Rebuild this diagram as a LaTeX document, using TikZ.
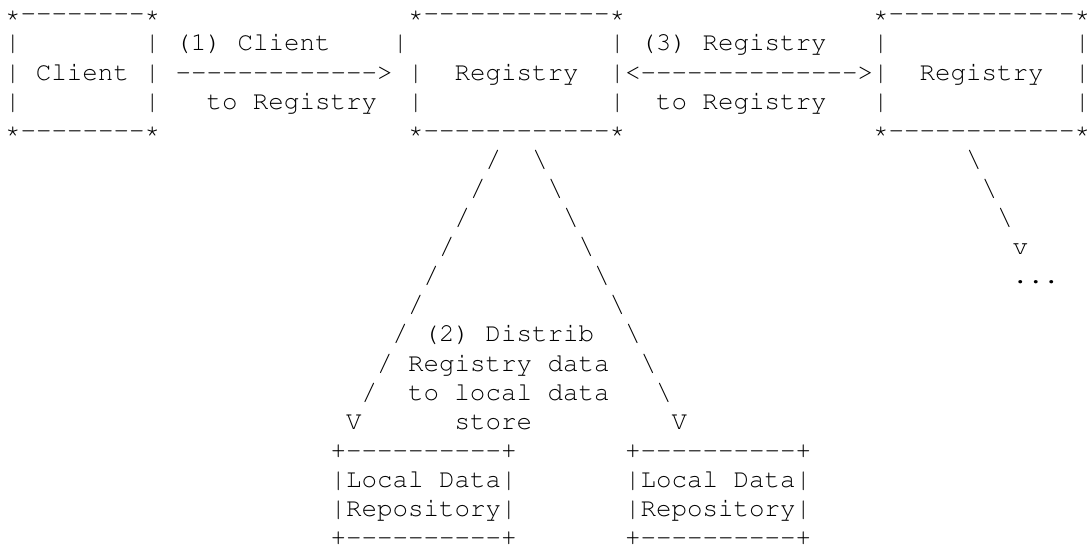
\documentclass[tikz,border=0pt]{standalone}
\usepackage[T1]{fontenc}
\usepackage{courier}
\usetikzlibrary{positioning}

\tikzset{
	asc/.style={inner sep=0pt, outer sep=0pt, anchor=base west,
		font=\ttfamily\fontsize{12.92pt}{14.55pt}\selectfont},
}
% a run of single hyphens (no en-dash ligature)
\newcommand{\dashrun}[1]{\foreach \k in {1,...,#1}{-}}

\begin{document}
\begin{tikzpicture}[x=7.75pt, y=-14.55pt]
	\useasboundingbox (-2.5pt,10.9pt) rectangle (542.5pt,-265.6pt);
	% boxes on the top line
	\node[asc] (clienttop) at (0,0) {*\dashrun{8}*};
	\node[asc] (regtop) at (26,0) {*\dashrun{12}*};
	\node[asc] (peertop) at (56,0) {*\dashrun{12}*};
	\node[asc] (clientl2) at (0,1) {|};
	\node[asc] (stepa) at (9,1) {| (1) Client};
	\node[asc] (regl2) at (25,1) {|};
	\node[asc] (stepc) at (39,1) {| (3) Registry};
	\node[asc] (peerl2) at (56,1) {|};
	\node[asc] (peerr2) at (69,1) {|};
	\node[asc] (client) at (0,2) {| Client | \dashrun{13}>};
	\node[asc] (regl3) at (26,2) {|};
	\node[asc] (reg) at (29,2) {Registry};
	\node[asc] (arrowc) at (39,2) {|<\dashrun{14}>|};
	\node[asc] (peer) at (59,2) {Registry};
	\node[asc] (peerr3) at (69,2) {|};
	\node[asc] (clientl4) at (0,3) {|};
	\node[asc] (clientr4) at (9,3) {|};
	\node[asc] (stepa2) at (13,3) {to Registry};
	\node[asc] (regl4) at (26,3) {|};
	\node[asc] (regr4) at (39,3) {|};
	\node[asc] (stepc2) at (42,3) {to Registry};
	\node[asc] (peerl4) at (56,3) {|};
	\node[asc] (peerr4) at (69,3) {|};
	\node[asc] (clientbot) at (0,4) {*\dashrun{8}*};
	\node[asc] (regbot) at (26,4) {*\dashrun{12}*};
	\node[asc] (peerbot) at (56,4) {*\dashrun{12}*};
	% slanted lines down to the local stores
	\foreach \i in {0,...,8} {
		\node[asc] (ls\i) at ({31-\i},{5+\i}) {/};
		\node[asc] (rs\i) at ({34+\i},{5+\i}) {\textbackslash};
	}
	\foreach \i in {0,1,2}
		\node[asc] (ps\i) at ({62+\i},{5+\i}) {\textbackslash};
	\node[asc] (peerv) at (65,8) {v};
	\node[asc] (more) at (65,9) {...};
	\node[asc] (stepb) at (27,11) {(2) Distrib};
	\node[asc] (stepb2) at (26,12) {Registry data};
	\node[asc] (stepb3) at (26,13) {to local data};
	\node[asc] (lv) at (22,14) {V};
	\node[asc] (stepb4) at (29,14) {store};
	\node[asc] (rv) at (43,14) {V};
	% local data repositories
	\foreach \c/\n in {21/a,40/b} {
		\node[asc] (store\n top) at (\c,15) {+\dashrun{10}+};
		\node[asc] (store\n) at (\c,16) {|Local Data|};
		\node[asc] (store\n rep) at (\c,17) {|Repository|};
		\node[asc] (store\n bot) at (\c,18) {+\dashrun{10}+};
	}
\end{tikzpicture}
\end{document}
